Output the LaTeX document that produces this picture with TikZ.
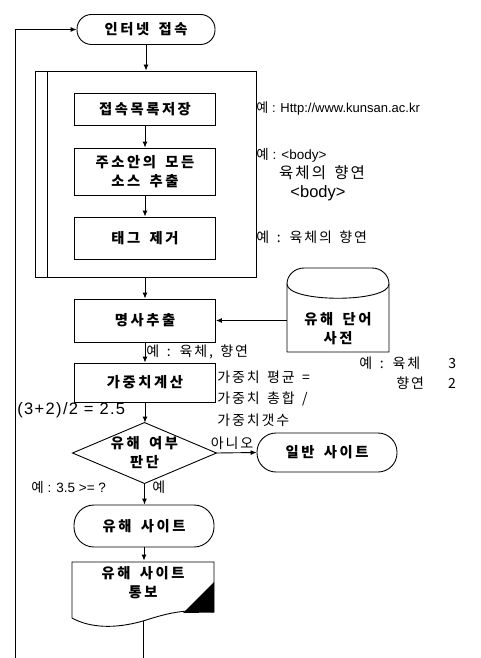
\documentclass[tikz,border=0pt]{standalone}
\usepackage{fontspec}
\setmainfont{Liberation Sans}
\newfontfamily\kr{Noto Sans CJK KR}[LetterSpace=18,WordSpace=1.6]
\newfontfamily\kra{Noto Sans CJK KR}[LetterSpace=13,WordSpace=1.5]
\newfontfamily\latsp{Liberation Sans}[LetterSpace=8]
\usetikzlibrary{arrows.meta}
\begin{document}
\begin{tikzpicture}[x=1pt,y=-1pt,line width=0.9pt,
  arr/.style={-{Latex[length=6pt,width=5pt]}},
  boxtext/.style={inner sep=0pt, align=center, font=\kr\bfseries\fontsize{14.3}{19}\selectfont},
  box/.style={boxtext, draw, minimum width=141pt},
  term/.style={boxtext, draw, rounded corners=#1},
  term/.default=14pt,
  ann/.style={inner sep=0pt, anchor=west, font=\fontsize{13}{16}\selectfont},
  kann/.style={inner sep=0pt, anchor=west, font=\kra\fontsize{14}{16}\selectfont}]
\useasboundingbox (0,0) rectangle (481,658);

% main column
\node[term=14.5pt, minimum width=138pt, minimum height=30pt] (t1) at (146,29.5) {인터넷 접속};
\node[draw, minimum width=221pt, minimum height=206pt, inner sep=0pt] (big) at (145.5,174) {};
\draw ([xshift=13pt]big.north west) -- ([xshift=13pt]big.south west);
\node[box, minimum height=32pt] (b1) at (145,109) {접속목록저장};
\node[box, minimum height=47pt] (b2) at (145,171.5) {주소안의 모든\\소스 추출};
\node[box, minimum height=42pt] (b3) at (145,238) {태그 제거};
\node[box, minimum height=43pt] (n1) at (145,320.5) {명사추출};
\node[box, minimum height=39pt] (n2) at (145,382.5) {가중치계산};
\node[boxtext, minimum width=143pt, minimum height=60pt] (d) at (144.5,453) {유해 여부\\판단};
\draw (d.north) -- (d.east) -- (d.south) -- (d.west) -- cycle;
\node[term=19pt, minimum width=140pt, minimum height=39pt] (t2) at (327,452.5) {일반 사이트};
\node[term=20pt, minimum width=140pt, minimum height=42pt] (t3) at (144,526) {유해 사이트};
\node[boxtext, minimum width=142pt, minimum height=44pt] (doc) at (143,583) {유해 사이트\\통보};
\draw (72,618) -- (72,562) -- (214,562) -- (214,612)
  .. controls (185,608) and (165,614) .. (143,621)
  .. controls (115,629) and (90,628) .. (72,618);
\fill (183,613) -- (214,582) -- (214,612.5) -- cycle;

% database
\node[boxtext, minimum width=102pt, minimum height=46pt] (db) at (338,329) {유해 단어\\사전};
\draw (287,352) -- (287,284) to[out=90,in=180] (304,268) -- (372,268) to[out=0,in=90] (389,284) -- (389,352) -- cycle;
\draw (287,284) .. controls (287,303) and (389,303) .. (389,284);

% coordinates for free ends
\coordinate (docout) at (143,621);
\coordinate (docend) at (143,658);
\coordinate (loopstart) at (15,658);

% connectors
\draw[arr] (loopstart) |- (t1.west);
\draw[arr] (t1.south) -- (t1.south |- big.north);
\draw[arr] (b1.south) -- (b2.north);
\draw[arr] (b2.south) -- (b3.north);
\draw[arr] (n1.north |- big.south) -- (n1.north);
\draw[arr] (db.west |- n1.east) -- (n1.east);
\draw[arr] (n1.south) -- (n2.north);
\draw[arr] (n2.south) -- (n2.south |- d.north);
\draw[arr] (d.east) -- (t2.west);
\draw[arr] (d.south) -- (d.south |- t3.north);
\draw[arr] (t3.south) -- (t3.south |- doc.north);
\draw (docout) -- (docend);

% annotations
\node[ann] (a1) at (256,108) {{\kra 예} : Http://www.kunsan.ac.kr};
\node[ann, font=\fontsize{13.5}{16}\selectfont] (a2) at (256,155) {{\kra 예} : <body>};
\node[kann, anchor=center, font=\kra\fontsize{15.5}{17}\selectfont] (a3) at (322,173) {육체의 향연};
\node[ann, anchor=center, font=\fontsize{16.5}{18}\selectfont] (a4) at (318,193) {<body>};
\node[kann] (a5) at (256,237) {예 : 육체의 향연};
\node[kann] (a6) at (146,352) {예 : 육체, 향연};
\node[kann] (a7) at (359,363) {예 : 육체\hspace{28pt}3};
\node[kann] (a8) at (396,383) {향연\hspace{24pt}2};
\node[kann] (a9) at (217,377) {가중치 평균 =};
\node[kann] (a10) at (217,399) {가중치 총합 /};
\node[kann] (a11) at (217,420) {가중치갯수};
\node[ann, font=\latsp\fontsize{16.5}{18}\selectfont] (a12) at (17,410) {(3+2)/2 = 2.5};
\node[kann, anchor=center] (a13) at (232,443) {아니오};
\node[ann, font=\fontsize{13.5}{15}\selectfont] (a14) at (31,487) {{\kra 예} : 3.5 >= ?};
\node[kann] (a15) at (152,487) {예};
\end{tikzpicture}
\end{document}
